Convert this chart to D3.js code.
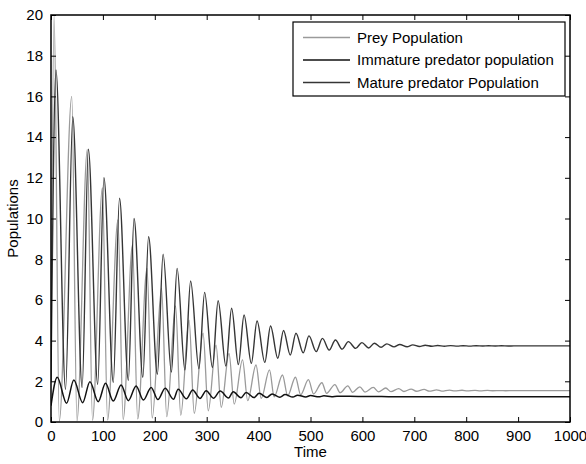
<!DOCTYPE html>
<html>
<head>
<meta charset="utf-8">
<script src="https://cdn.jsdelivr.net/npm/d3@7"></script>
<style>
  body { margin: 0; background: #fff; }
  text { font-family: "Liberation Sans", Arial, sans-serif; }
</style>
</head>
<body>
<div id="chart"></div>
<script>
// values: [time, population]
const preyPeaks = [[6,20],[40,16],[70,13.4],[99,11.5],[129,9.93],[157,8.7],[185,7.55],[213,6.57],[240,5.7],[266,5.0],[293,4.36],[318,3.78],[343,3.37],[369,3.05],[395,2.8],[421,2.56],[446,2.31],[471,2.2],[496,2.08],[522,1.93],[547,1.84],[572,1.78],[595,1.73],[621,1.7],[645,1.67],[670,1.64],[694,1.62],[719,1.6],[743,1.58],[768,1.57],[792,1.56],[817,1.555],[841,1.55],[866,1.545],[890,1.54]];
const preyTroughs = [[0,3],[16,0.05],[50,0.06],[80,0.08],[109,0.1],[139,0.12],[167,0.15],[195,0.2],[223,0.26],[250,0.33],[276,0.42],[303,0.55],[328,0.72],[353,0.88],[379,1.05],[405,1.16],[430,1.24],[456,1.29],[481,1.34],[506,1.38],[531,1.41],[557,1.44],[581,1.46],[605,1.47],[631,1.48],[655,1.49],[680,1.5],[704,1.51],[729,1.515],[753,1.52],[778,1.525],[802,1.53],[827,1.53],[851,1.535],[876,1.535],[900,1.54],[1000,1.54]];

const immaturePeaks = [[12,2.2],[44,2.06],[75,1.98],[105,1.9],[135,1.82],[164,1.77],[193,1.7],[220,1.66],[245,1.61],[273,1.57],[299,1.54],[326,1.52],[351,1.49],[376,1.45],[401,1.41],[426,1.38],[451,1.35],[475,1.32],[500,1.3],[526,1.285],[551,1.27],[576,1.26],[601,1.255],[626,1.25],[650,1.245]];
const immatureTroughs = [[0,0.8],[30,0.92],[61,0.95],[91,1.0],[120,1.03],[149,1.05],[178,1.08],[206,1.1],[236,1.12],[261,1.14],[287,1.16],[313,1.17],[342,1.18],[366,1.19],[391,1.2],[416,1.21],[441,1.22],[466,1.225],[491,1.23],[516,1.235],[541,1.24],[700,1.24],[1000,1.24]];

const maturePeaks = [[9.6,17.3],[42,15.0],[72,13.4],[102,12.0],[132,11.0],[160,10.0],[188,9.1],[216,8.25],[243,7.55],[269,6.93],[296,6.37],[322,5.96],[348,5.59],[372,5.26],[397,4.96],[423,4.72],[448,4.5],[472,4.36],[497,4.23],[523,4.11],[548,4.03],[573,3.95],[599,3.9],[623,3.87],[647,3.84],[672,3.81],[697,3.79],[721,3.77],[745,3.76],[770,3.755],[794,3.75],[819,3.75],[843,3.745],[868,3.745],[892,3.74]];
const matureTroughs = [[0,2.0],[28,1.6],[60,1.7],[90,1.85],[120,1.95],[149,2.05],[177,2.2],[205,2.35],[232,2.45],[258,2.55],[285,2.62],[311,2.68],[337,2.75],[361,2.82],[386,2.88],[412,2.93],[437,3.13],[461,3.29],[486,3.4],[511,3.46],[536,3.53],[561,3.58],[587,3.62],[612,3.64],[636,3.67],[661,3.69],[686,3.7],[710,3.71],[734,3.72],[758,3.725],[783,3.73],[807,3.73],[832,3.735],[856,3.735],[881,3.735],[905,3.74],[1000,3.74]];

const seriesNames = ["Prey Population", "Immature predator population", "Mature predator Population"];
const xTicks = d3.range(0, 1001, 100);
const yTicks = d3.range(0, 21, 2);

// layout
const W = 586, H = 464;
const margin = { top: 15, right: 16, bottom: 42, left: 51 };
const width = W - margin.left - margin.right;
const height = H - margin.top - margin.bottom;

const svg = d3.select("#chart")
    .append("svg")
    .attr("width", W)
    .attr("height", H);

const g = svg.append("g")
    .attr("transform", `translate(${margin.left}, ${margin.top})`);

const x = d3.scaleLinear().domain([0, 1000]).range([0, width]);
const y = d3.scaleLinear().domain([0, 20]).range([height, 0]);

g.append("clipPath").attr("id", "clip")
    .append("rect").attr("width", width).attr("height", height);

const merge = (a, b) => a.concat(b).sort((p, q) => p[0] - q[0]);
const series = [
    { name: seriesNames[0], data: merge(preyPeaks, preyTroughs), color: "#9a9a9a", w: 1.3 },
    { name: seriesNames[1], data: merge(immaturePeaks, immatureTroughs), color: "#111", w: 1.5 },
    { name: seriesNames[2], data: merge(maturePeaks, matureTroughs), color: "#353535", w: 1.4 }
];

const line = d3.line()
    .x(d => x(d[0]))
    .y(d => y(d[1]))
    .curve(d3.curveMonotoneX);

g.append("g").attr("clip-path", "url(#clip)")
    .selectAll("path")
    .data(series)
    .join("path")
    .attr("fill", "none")
    .attr("stroke", d => d.color)
    .attr("stroke-width", d => d.w)
    .attr("d", d => line(d.data));

// axes, matlab style (ticks inside, mirrored)
const tickStyle = sel => {
    sel.select(".domain").remove();
    sel.selectAll("line").attr("stroke", "#000");
    sel.selectAll("text").style("font-size", "15px").attr("fill", "#000");
};
g.append("g")
    .attr("transform", `translate(0, ${height})`)
    .call(d3.axisBottom(x).tickValues(xTicks).tickSize(-5).tickPadding(8).tickFormat(d3.format("d")))
    .call(tickStyle);
g.append("g")
    .call(d3.axisTop(x).tickValues(xTicks).tickSize(-5).tickFormat(""))
    .call(tickStyle);
g.append("g")
    .call(d3.axisLeft(y).tickValues(yTicks).tickSize(-5).tickPadding(8))
    .call(tickStyle);
g.append("g")
    .attr("transform", `translate(${width}, 0)`)
    .call(d3.axisRight(y).tickValues(yTicks).tickSize(-5).tickFormat(""))
    .call(tickStyle);

g.append("rect")
    .attr("width", width).attr("height", height)
    .attr("fill", "none").attr("stroke", "#000").attr("stroke-width", 1.5);

// axis labels
svg.append("text")
    .attr("x", margin.left + width / 2).attr("y", 457)
    .attr("text-anchor", "middle")
    .style("font-size", "15px")
    .text("Time");
svg.append("text")
    .attr("transform", `translate(18, ${margin.top + height / 2}) rotate(-90)`)
    .attr("text-anchor", "middle")
    .style("font-size", "15px")
    .text("Populations");

// legend
const legend = svg.append("g").attr("transform", "translate(293, 22)");
legend.append("rect")
    .attr("width", 272).attr("height", 74)
    .attr("fill", "#fff").attr("stroke", "#000").attr("stroke-width", 1.2);
const rows = legend.selectAll(".row")
    .data(series)
    .join("g")
    .attr("class", "row")
    .attr("transform", (d, i) => `translate(0, ${15.5 + i * 22.5})`);
rows.append("line")
    .attr("x1", 10).attr("x2", 57)
    .attr("stroke", d => d.color)
    .attr("stroke-width", d => d.w);
rows.append("text")
    .attr("x", 64).attr("dy", "0.35em")
    .style("font-size", "15px")
    .text(d => d.name);
</script>
</body>
</html>
